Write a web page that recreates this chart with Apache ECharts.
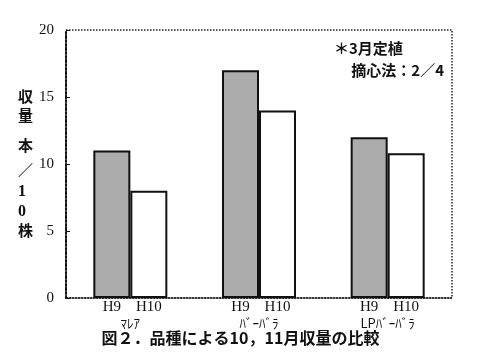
<!DOCTYPE html>
<html><head><meta charset="utf-8">
<script src="https://cdn.jsdelivr.net/npm/echarts@6/dist/echarts.min.js"></script>
<style>html,body{margin:0;padding:0;background:#fff}#c{width:481px;height:361px}</style>
</head><body><div id="c"></div>
<script>
const categories = ['ﾏﾚｱ', 'ﾊﾞｰﾊﾞﾗ', 'LPﾊﾞｰﾊﾞﾗ'];
const seriesNames = ['H9', 'H10'];
const h9Values = [11, 17, 12];
const h10Values = [8, 14, 10.8];
const yTicks = [0, 5, 10, 15, 20];
const yNameChars = [['収', 98], ['量', 117], ['本', 147], ['／', 172], ['1', 193], ['0', 213], ['株', 232]];
const title = '図２．品種による10，11月収量の比較';
const note1 = '＊3月定植';
const note2 = '摘心法：2／4';

const chart = echarts.init(document.getElementById('c'));
const serif = '"Liberation Serif", "DejaVu Serif", serif';
const jp = '"Noto Sans CJK JP", sans-serif';
const graphics = yNameChars.map(([ch, y]) => ({
  type: 'text', left: 18, top: y - 9,
  style: { text: ch, font: (/[0-9]/.test(ch) ? 'bold 16px ' + serif : 'bold 15px ' + jp), fill: '#111' }
}));
graphics.push({ type: 'text', left: 334, top: 41, style: { text: note1, font: 'bold 15px ' + jp, fill: '#111' } });
graphics.push({ type: 'text', right: 37, top: 63, style: { text: note2, font: 'bold 15px ' + jp, fill: '#111' } });
graphics.push({ type: 'text', left: 'center', top: 330, style: { text: title, font: 'bold 16px ' + jp, fill: '#111' } });

chart.setOption({
  animation: false,
  backgroundColor: '#fff',
  grid: { left: 66, right: 29, top: 30, bottom: 63, show: true, borderColor: '#222', borderWidth: 1.5, borderType: 'dotted' },
  graphic: graphics,
  xAxis: {
    type: 'category', data: categories,
    axisLine: { lineStyle: { color: '#222', width: 1.5, type: 'dotted' } },
    axisTick: { inside: true, length: 4, lineStyle: { color: '#444' } },
    axisLabel: { margin: 19, fontFamily: jp, fontSize: 13, color: '#111' }
  },
  yAxis: {
    type: 'value', min: 0, max: 20, interval: 5,
    axisLine: { show: true, lineStyle: { color: '#111', width: 2, type: 'dotted' } },
    axisTick: { show: true, inside: true, length: 4, lineStyle: { color: '#111' } },
    splitLine: { show: false },
    axisLabel: { fontFamily: serif, fontSize: 15, color: '#111', margin: 12,
      formatter: v => yTicks.includes(v) ? String(v) : '' }
  },
  series: [
    { name: seriesNames[0], type: 'bar', data: h9Values, barWidth: 37, barGap: '0%',
      itemStyle: { color: '#acacac', borderColor: '#111', borderWidth: 2 },
      label: { show: true, position: 'bottom', distance: 2, formatter: seriesNames[0], fontFamily: serif, fontSize: 15, color: '#111' } },
    { name: seriesNames[1], type: 'bar', data: h10Values, barWidth: 37,
      itemStyle: { color: '#fff', borderColor: '#111', borderWidth: 2 },
      label: { show: true, position: 'bottom', distance: 2, formatter: seriesNames[1], fontFamily: serif, fontSize: 15, color: '#111' } }
  ]
});
</script></body></html>
